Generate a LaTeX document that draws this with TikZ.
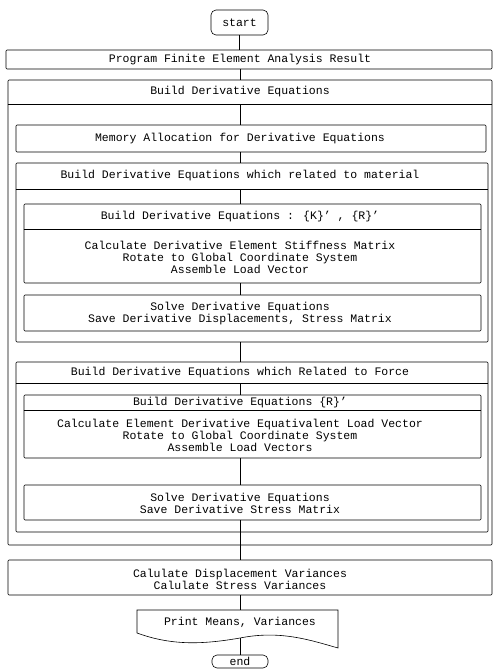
\documentclass[tikz,border=0pt]{standalone}
\usepackage{fontspec}
\setmainfont{Liberation Mono}
\begin{document}
\begin{tikzpicture}[x=1pt,y=-1pt,
  frame/.style={draw, line width=0.6pt, inner sep=0pt, rounded corners=1pt},
  term/.style={draw, line width=0.6pt, inner sep=0pt, rounded corners=5pt, font=\fontsize{11.5}{12}\selectfont},
  txt/.style={font=\fontsize{11.5}{12}\selectfont, align=center, inner sep=0pt},
  conn/.style={draw, line width=0.6pt}]
\useasboundingbox (0,0) rectangle (494,669);
\coordinate (axis) at (240,0);
% terminals
\node[term, minimum width=57pt, minimum height=25pt] (start) at (239.5,22.5) {start};
\node[term, minimum width=56pt, minimum height=13pt] (end) at (240,661.5) {end};
% program box
\node[frame, minimum width=486pt, minimum height=19pt] (prog) at (249,59.5) {};
\node[txt] (progt) at (240,59.5) {Program Finite Element Analysis Result};
% outer box
\node[frame, minimum width=484pt, minimum height=465pt] (outer) at (250,312.5) {};
\node[txt, minimum height=24pt] (h0) at (240,92) {Build Derivative Equations};
\draw[conn] (outer.west |- h0.south) -- (outer.east |- h0.south);
% memory
\node[frame, minimum width=470pt, minimum height=27pt] (mem) at (251,138.5) {};
\node[txt] (memt) at (240,138.5) {Memory Allocation for Derivative Equations};
% material
\node[frame, minimum width=472pt, minimum height=179pt] (mat) at (252,252.5) {};
\node[txt, minimum height=26pt] (h1) at (240,176) {Build Derivative Equations which related to material};
\draw[conn] (mat.west |- h1.south) -- (mat.east |- h1.south);
\node[frame, minimum width=457pt, minimum height=79pt] (in1) at (252.5,243.5) {};
\node[txt, minimum height=25pt] (h2) at (240,216.5) {Build Derivative Equations : \{K\}' , \{R\}'};
\draw[conn] (in1.west |- h2.south) -- (in1.east |- h2.south);
\node[txt] (b1) at (240,257) {Calculate Derivative Element Stiffness Matrix\\Rotate to Global Coordinate System\\Assemble Load Vector};
\node[frame, minimum width=457pt, minimum height=36pt] (sol1) at (252.5,313) {};
\node[txt] (s1) at (240,313.5) {Solve Derivative Equations\\Save Derivative Displacements, Stress Matrix};
% force
\node[frame, minimum width=472pt, minimum height=170pt] (frc) at (252,447) {};
\node[txt, minimum height=21pt] (h3) at (240,372.5) {Build Derivative Equations which Related to Force};
\draw[conn] (frc.west |- h3.south) -- (frc.east |- h3.south);
\node[frame, minimum width=457pt, minimum height=63pt] (in2) at (252.5,426.5) {};
\node[txt, minimum height=15pt] (h4) at (240,402.5) {Build Derivative Equations \{R\}'};
\draw[conn] (in2.west |- h4.south) -- (in2.east |- h4.south);
\node[txt] (b2) at (240,435) {Calculate Element Derivative Equativalent Load Vector\\Rotate to Global Coordinate System\\Assemble Load Vectors};
\node[frame, minimum width=457pt, minimum height=35pt] (sol2) at (252.5,502.5) {};
\node[txt] (s2) at (240,503) {Solve Derivative Equations\\Save Derivative Stress Matrix};
% variances
\node[frame, minimum width=484pt, minimum height=35pt] (var) at (250,577.5) {};
\node[txt] (vt) at (240,579) {Calulate Displacement Variances\\Calulate Stress Variances};
% print (document shape)
\node[inner sep=0pt, minimum width=201pt, minimum height=28pt] (prbox) at (237.5,624) {};
\draw[line width=0.6pt] (137,633) -- (137,610) -- (338,610) -- (338,648)
  .. controls (310,640) and (280,630) .. (240,638)
  .. controls (200,645) and (170,645) .. (137,633);
\node[txt] (prt) at (240,622) {Print Means, Variances};
% connectors
\draw[conn] (start.south) -- (start.south |- prog.north);
\draw[conn] (prog.south -| axis) -- (outer.north -| axis);
\draw[conn] (h0.south -| axis) -- (mem.north -| axis);
\draw[conn] (mem.south -| axis) -- (mat.north -| axis);
\draw[conn] (h1.south -| axis) -- (in1.north -| axis);
\draw[conn] (in1.south -| axis) -- (sol1.north -| axis);
\draw[conn] (mat.south -| axis) -- (frc.north -| axis);
\draw[conn] (h3.south -| axis) -- (in2.north -| axis);
\draw[conn] (in2.south -| axis) -- (sol2.north -| axis);
\draw[conn] (sol2.south -| axis) -- (var.north -| axis);
\draw[conn] (var.south -| axis) -- (prbox.north -| axis);
\draw[conn] (prbox.south -| axis) -- (end.north);
\end{tikzpicture}
\end{document}
